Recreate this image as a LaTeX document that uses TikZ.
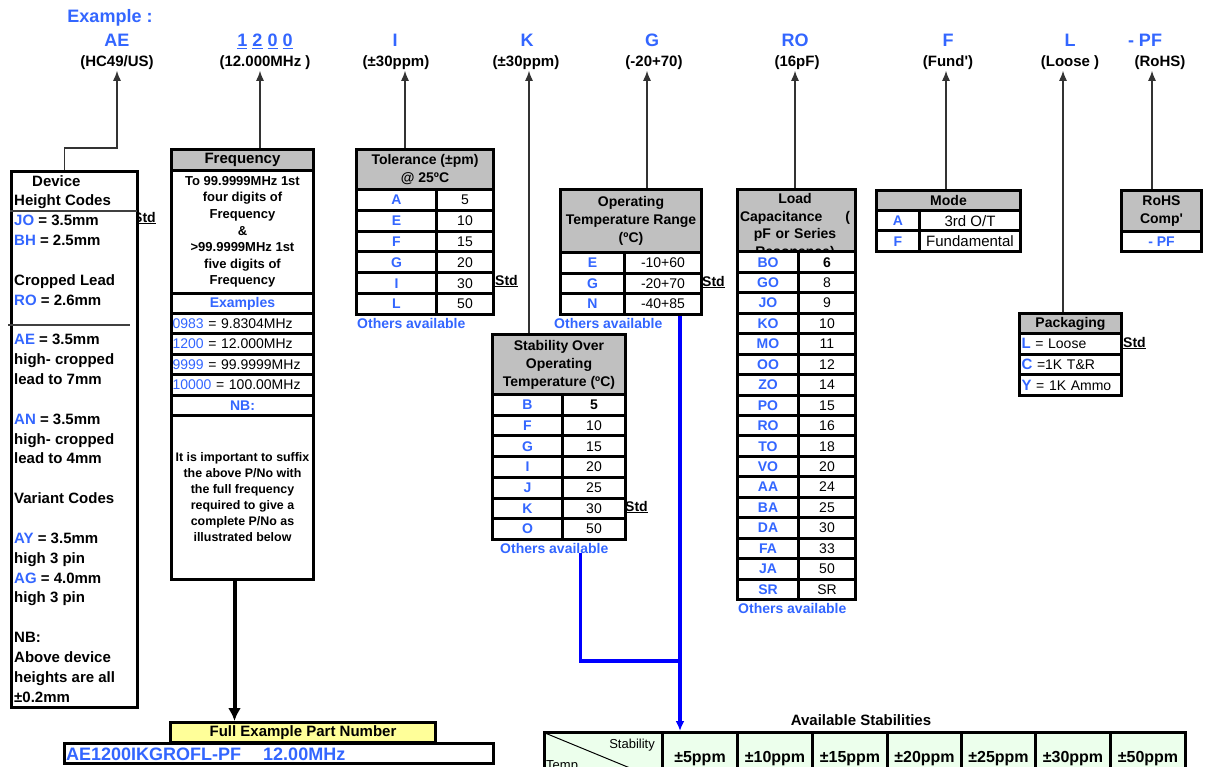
\documentclass[tikz,border=0pt]{standalone}
\usepackage{fontspec}
\setmainfont{Liberation Sans}[Ligatures=TeXOff]
\usetikzlibrary{arrows.meta}
\definecolor{codeblue}{RGB}{51,102,255}
\definecolor{headgray}{RGB}{192,192,192}
\definecolor{partyellow}{RGB}{255,255,153}
\definecolor{stabgreen}{RGB}{236,255,236}
\definecolor{linkblue}{RGB}{0,0,255}
\newcommand\dkey[1]{\textcolor{codeblue}{#1}}
\newcommand\pkey[1]{\textcolor{codeblue}{\fontsize{15}{16}\selectfont\bfseries #1}}

\begin{document}
\begin{tikzpicture}[x=1pt, y=-1pt,
  code/.style={font=\fontsize{18}{20}\selectfont\bfseries, text=codeblue, anchor=base, inner sep=1pt},
  desc/.style={font=\fontsize{15}{17}\selectfont\bfseries, anchor=base, inner sep=1pt},
  up/.style={draw=black!80, line width=1.2pt, -{Latex[length=10pt,width=8pt]}},
  bigarrow/.style={draw=black, line width=4pt, -{Latex[length=13pt,width=13pt]}},
  link/.style={draw=linkblue, line width=3.2pt},
  cell/.style={draw, line width=3pt, fill=white, anchor=north west, inner sep=0pt, font=\fontsize{14}{16}\selectfont},
  key/.style={cell, font=\fontsize{14}{16}\selectfont\bfseries, text=codeblue},
  headcell/.style={cell, fill=headgray, font=\fontsize{14}{18}\selectfont\bfseries, align=center},
  others/.style={font=\fontsize{14}{16}\selectfont\bfseries, text=codeblue, anchor=west, inner sep=0pt},
  std/.style={font=\fontsize{14}{16}\selectfont\bfseries, anchor=west, inner sep=0pt}
]
\useasboundingbox (0,0) rectangle (1205,767);
\clip (0,0) rectangle (1205,767);
\fill[white] (0,0) rectangle (1205,767);

% part number code line
\node[code, anchor=base] (exlbl) at (110,22.5) {Example :};
\node[code] (aeC) at (117,46.4) {AE};
\node[code] (frC) at (265,46.4) {\underline{1} \underline{2} \underline{0} \underline{0}};
\node[code] (tolC) at (395,46.4) {I};
\node[code] (stbC) at (527,46.4) {K};
\node[code] (optC) at (652,46.4) {G};
\node[code] (ldC) at (795,46.4) {RO};
\node[code] (mdC) at (948,46.4) {F};
\node[code] (pkC) at (1070,46.4) {L};
\node[code] (rhC) at (1145,46.4) {- PF};

\node[desc] (aeD) at (117,66.5) {(HC49/US)};
\node[desc] (frD) at (265,66.5) {(12.000MHz )};
\node[desc] (tolD) at (396,66.5) {(±30ppm)};
\node[desc] (stbD) at (526,66.5) {(±30ppm)};
\node[desc] (optD) at (654,66.5) {(-20+70)};
\node[desc] (ldD) at (797,66.5) {(16pF)};
\node[desc] (mdD) at (948,66.5) {(Fund')};
\node[desc] (pkD) at (1070,66.5) {(Loose )};
\node[desc] (rhD) at (1160,66.5) {(RoHS)};

% device height codes
\node[std] (devstd) at (133,218) {\underline{Std}};
\node[cell, minimum width=126pt, minimum height=536pt] (devb) at (10,170) {};
\node[font=\fontsize{15}{19.85}\selectfont\bfseries, align=left, anchor=north west, inner sep=0pt] (devt) at (14,175) {\hspace*{18pt}Device\\
Height Codes\\
\dkey{JO} = 3.5mm\\
\dkey{BH} = 2.5mm\\[19.85pt]
Cropped Lead\\
\dkey{RO} = 2.6mm\\[19.85pt]
\dkey{AE} = 3.5mm\\
high- cropped\\
lead to 7mm\\[19.85pt]
\dkey{AN} = 3.5mm\\
high- cropped\\
lead to 4mm\\[19.85pt]
Variant Codes\\[19.85pt]
\dkey{AY} = 3.5mm\\
high 3 pin\\
\dkey{AG} = 4.0mm\\
high 3 pin\\[19.85pt]
NB:\\
Above device\\
heights are all\\
±0.2mm};
\draw[line width=1.2pt, black!75] (10,211) -- (137,211);
\draw[line width=1.2pt, black!75] (8,325) -- (130,325);

% frequency
\node[headcell, font=\fontsize{15}{17}\selectfont\bfseries, minimum width=142pt, minimum height=21pt] (freqh) at (170,148) {Frequency};
\node[cell, font=\fontsize{13}{16.6}\selectfont\bfseries, align=center, minimum width=142pt, minimum height=123pt] (freqt) at (170,169) {To 99.9999MHz 1st\\four digits of\\Frequency\\\&\\>99.9999MHz 1st\\five digits of\\Frequency};
\node[key, minimum width=142pt, minimum height=20pt] (freqx) at (170,292) {Examples};
\foreach \a/\b [count=\i from 0] in {0983/9.8304MHz,1200/12.000MHz,9999/99.9999MHz,10000/100.00MHz}{
  \node[cell, text width=140pt, inner xsep=1pt, align=left, minimum height=20.4pt] (freqe\i) at (170,312+20.4*\i) {\textcolor{codeblue}{\a} = \b};
}
\node[key, minimum width=142pt, minimum height=20.4pt] (freqnb) at (170,393.6) {NB:};
\node[cell, font=\fontsize{12.4}{16}\selectfont\bfseries, align=center, minimum width=142pt, minimum height=164pt] (freqn) at (170,414) {It is important to suffix\\the above P/No with\\the full frequency\\required to give a\\complete P/No as\\illustrated below};

% tolerance
\node[headcell, minimum width=137pt, minimum height=40pt] (tolh) at (355,148) {Tolerance (±pm)\\@ 25ºC};
\foreach \k/\v [count=\i from 0] in {A/5,E/10,F/15,G/20,I/30,L/50}{
  \node[key, minimum width=80pt, minimum height=20.83pt] (tolk\i) at (355,188+20.83*\i) {\k};
  \node[cell, minimum width=57pt, minimum height=20.83pt] (tolv\i) at (435,188+20.83*\i) {\v};
}
\node[std] (tolstd) at (495,281) {\underline{Std}};
\node[others] (tolo) at (357,323) {Others available};

% operating temperature
\node[headcell, minimum width=141pt, minimum height=63pt] (opth) at (559,188) {Operating\\Temperature Range\\(ºC)};
\foreach \k/\v [count=\i from 0] in {E/-10+60,G/-20+70,N/-40+85}{
  \node[key, minimum width=64pt, minimum height=20.67pt] (optk\i) at (559,251+20.67*\i) {\k};
  \node[cell, minimum width=77pt, minimum height=20.67pt] (optv\i) at (623,251+20.67*\i) {\v};
}
\node[std] (optstd) at (702,282) {\underline{Std}};
\node[others] (opto) at (554,323) {Others available};

% stability
\node[headcell, minimum width=133pt, minimum height=60pt] (stabh) at (491,333) {Stability Over\\Operating\\Temperature (ºC)};
\foreach \k/\v [count=\i from 0] in {B/\textbf{5},F/10,G/15,I/20,J/25,K/30,O/50}{
  \node[key, minimum width=70pt, minimum height=20.71pt] (stabk\i) at (491,393+20.71*\i) {\k};
  \node[cell, minimum width=63pt, minimum height=20.71pt] (stabv\i) at (561,393+20.71*\i) {\v};
}
\node[std] (stabstd) at (625,507) {\underline{Std}};
\node[others] (stabo) at (500,548) {Others available};

% load capacitance
\node[headcell, minimum width=118pt, minimum height=62pt] (loadh) at (736,188) {};
\begin{scope}
  \clip (loadh.north west) rectangle (loadh.south east);
  \node[font=\fontsize{14}{17.5}\selectfont\bfseries, text width=110pt, align=center, anchor=north, inner sep=0pt] (loadt) at (795,193.5) {Load\\Capacitance\hfill(\\pF or Series\\Resonance)};
\end{scope}
\foreach \k/\v [count=\i from 0] in {BO/\textbf{6},GO/8,JO/9,KO/10,MO/11,OO/12,ZO/14,PO/15,RO/16,TO/18,VO/20,AA/24,BA/25,DA/30,FA/33,JA/50,SR/SR}{
  \node[key, minimum width=61pt, minimum height=20.44pt] (loadk\i) at (736,250.5+20.44*\i) {\k};
  \node[cell, minimum width=57pt, minimum height=20.44pt] (loadv\i) at (797,250.5+20.44*\i) {\v};
}
\node[others] (loado) at (738,608) {Others available};

% mode
\node[headcell, minimum width=144pt, minimum height=20pt] (modeh) at (875,189) {Mode};
\node[key, minimum width=43pt, minimum height=20.5pt] (modek0) at (875,209) {A};
\node[cell, font=\fontsize{15}{16}\selectfont, minimum width=101pt, minimum height=20.5pt] (modev0) at (918,209) {3rd O/T};
\node[key, minimum width=43pt, minimum height=20.5pt] (modek1) at (875,229.5) {F};
\node[cell, font=\fontsize{15}{16}\selectfont, minimum width=101pt, minimum height=20.5pt] (modev1) at (918,229.5) {Fundamental};

% rohs
\node[headcell, minimum width=80pt, minimum height=41pt] (rohsh) at (1120,189) {RoHS\\Comp'};
\node[key, minimum width=80pt, minimum height=20pt] (rohsk) at (1120,230) {- PF};

% packaging
\node[headcell, minimum width=102pt, minimum height=20pt] (packh) at (1018,312) {Packaging};
\foreach \k/\v [count=\i from 0] in {L/= Loose,C/=1K T\&R,Y/= 1K Ammo}{
  \node[cell, text width=98pt, inner xsep=2pt, align=left, minimum height=20.7pt] (pack\i) at (1018,332+20.7*\i) {\pkey{\k} \v};
}
\node[std] (packstd) at (1123,343) {\underline{Std}};

% full example part number
\node[cell, fill=partyellow, font=\fontsize{15}{17}\selectfont\bfseries, minimum width=265pt, minimum height=20pt] (fullh) at (169,721) {Full Example Part Number};
\node[font=\fontsize{18}{20}\selectfont\bfseries, text=codeblue, anchor=base west, inner sep=0pt] (fulltxt) at (66,760) {AE1200IKGROFL-PF\hspace{22pt}12.00MHz};
\node[cell, fill=none, minimum width=429pt, minimum height=20pt] (fullp) at (63,742) {};

% available stabilities
\node[font=\fontsize{15}{17}\selectfont\bfseries, anchor=base] (availt) at (861,725) {Available Stabilities};
\node[cell, fill=stabgreen, minimum width=118pt, minimum height=52pt] (avail0) at (543,731) {};
\foreach \s/\xa/\w [count=\i] in {5/661/75,10/736/75,15/811/75,20/886/74,25/960/74,30/1034/75,50/1109/75}{
  \node[cell, fill=stabgreen, font=\fontsize{16}{18}\selectfont\bfseries, minimum width=\w, minimum height=52pt] (avail\i) at (\xa,731) {±\s ppm};
}
\draw[line width=1pt] (545,733) -- ++(85,35);
\node[font=\fontsize{13}{15}\selectfont, anchor=north east, inner sep=0pt] (avails) at (655,739) {Stability};
\node[font=\fontsize{13}{15}\selectfont, anchor=base west, inner sep=0pt] (availtemp) at (546,769) {Temp};

% connectors
\draw[up] ([xshift=-10pt]devb.north) |- (aeD.south |- freqh.north) -- (aeD.south);
\foreach \lbl/\hd/\sh in {frD/freqh/-5,tolD/tolh/9,stbD/stabh/3,optD/opth/-7,ldD/loadh/-2,mdD/modeh/-2,pkD/packh/-7,rhD/rohsh/-8}{
  \coordinate (tip-\lbl) at ([xshift=\sh pt]\lbl.south);
  \draw[up] (tip-\lbl |- \hd.north) -- (tip-\lbl);
}
\draw[bigarrow] ([xshift=-8pt]freqn.south) -- ([xshift=-8pt]freqn.south |- fullh.north);

\coordinate (bluejoin) at (680,661);
\draw[link] (bluejoin |- optv2.south) -- (bluejoin);
\draw[link] ([xshift=26pt]stabo.south) |- (bluejoin);
\draw[link, -{Latex[length=10pt,width=9pt]}] (bluejoin) -- (bluejoin |- avail1.north);
\end{tikzpicture}
\end{document}
